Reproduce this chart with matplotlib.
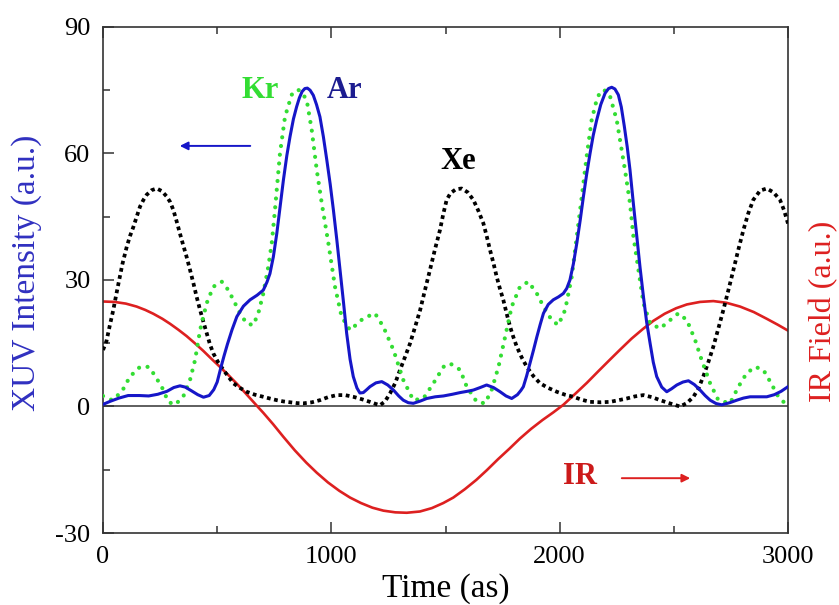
import matplotlib
matplotlib.use("Agg")
import matplotlib.pyplot as plt
from matplotlib.ticker import MultipleLocator

plt.rcParams['font.family'] = ['Liberation Serif', 'DejaVu Serif']
plt.rcParams['axes.unicode_minus'] = False

# XUV intensity of the attosecond pulse trains (a.u.) and the IR driving field
xe_t = [0, 15, 30, 45, 56, 67, 85, 104, 118, 133, 148, 162, 177, 191, 213, 235, 257,
        279, 294, 308, 322, 337, 351, 366, 381, 396, 410, 425, 440, 454, 468, 483,
        505, 527, 550, 571, 600, 629, 665, 702, 730, 761, 790, 820, 850, 877, 915,
        950, 985, 1023, 1060, 1096, 1135, 1169, 1195, 1213, 1235, 1257, 1280, 1301,
        1323, 1345, 1367, 1389, 1410, 1432, 1454, 1476, 1490, 1505, 1522, 1545, 1571,
        1597, 1622, 1644, 1666, 1680, 1695, 1710, 1724, 1738, 1753, 1768, 1783, 1797,
        1812, 1834, 1856, 1885, 1914, 1950, 1987, 2023, 2060, 2097, 2133, 2180, 2221,
        2258, 2294, 2330, 2367, 2405, 2440, 2485, 2527, 2557, 2586, 2608, 2629, 2651,
        2673, 2695, 2717, 2739, 2761, 2783, 2805, 2826, 2848, 2878, 2907, 2936, 2965,
        2983, 3000]
xe_v = [13.4, 15.5, 19.3, 22.9, 26.0, 29, 33.8, 37.9, 40.4, 42.6, 45.1, 47.4, 49.0,
        50.2, 51.3, 51.7, 51.1, 49.8, 48.5, 46.6, 44.0, 41, 38.3, 35.5, 32.4, 29.2,
        26.0, 22.9, 20.0, 17.4, 14.8, 12.6, 10.4, 8.7, 7.0, 5.5, 4.4, 3.5, 2.8, 2.3,
        1.9, 1.5, 1.2, 1.0, 0.8, 0.75, 1.0, 1.5, 2.2, 2.7, 2.7, 2.3, 1.7, 1.1, 0.6,
        0.3, 1.2, 3.1, 5.6, 8.7, 11.8, 15, 18.9, 22.9, 27.6, 32.4, 37.3, 41.9, 45.6,
        49, 50.6, 51.5, 51.7, 50.8, 49, 46.4, 43.4, 40.5, 37.1, 34.0, 30.8, 28.0, 25.3,
        22.0, 18.9, 16.5, 14.2, 11.6, 9.4, 7.2, 5.5, 4.4, 3.5, 2.8, 2.3, 1.6, 1.1, 1.0,
        1.1, 1.5, 1.9, 2.4, 2.7, 2.2, 1.5, 0.7, 0, 0.8, 2.3, 4.3, 7.1, 10.5, 14.2,
        18.5, 22.9, 27.6, 32.4, 37.3, 41.9, 45.8, 49, 51.2, 51.7, 50.8, 49, 46.5, 43.4]

ar_t = [0, 30, 70, 110, 160, 200, 240, 280, 310, 337, 360, 385, 415, 440, 465, 485,
        500, 515, 530, 545, 565, 586, 615, 644, 675, 702, 718, 731, 746, 761, 776, 790,
        805, 819, 834, 848, 860, 872, 884, 895, 907, 921, 935, 950, 965, 980, 995,
        1009, 1024, 1038, 1053, 1067, 1082, 1096, 1112, 1125, 1140, 1155, 1169, 1195,
        1221, 1247, 1272, 1295, 1315, 1337, 1359, 1390, 1418, 1455, 1491, 1530, 1564,
        1595, 1622, 1652, 1680, 1710, 1739, 1765, 1790, 1815, 1830, 1841, 1855, 1870,
        1885, 1900, 1915, 1929, 1950, 1972, 1995, 2016, 2031, 2045, 2060, 2075, 2090,
        2104, 2118, 2133, 2147, 2162, 2180, 2199, 2214, 2228, 2242, 2257, 2270, 2283,
        2296, 2308, 2323, 2338, 2352, 2367, 2381, 2396, 2410, 2425, 2447, 2469, 2490,
        2513, 2540, 2564, 2590, 2615, 2637, 2659, 2685, 2710, 2745, 2776, 2805, 2834,
        2870, 2907, 2940, 2970, 3000]
ar_v = [0.5, 1.2, 2.0, 2.6, 2.6, 2.5, 2.9, 3.6, 4.5, 4.9, 4.6, 3.8, 2.8, 2.2, 2.6, 4.0,
        5.8, 9.0, 12.0, 14.8, 18.2, 21.3, 23.8, 25.3, 26.4, 27.6, 29.5, 31.5, 35.5, 41,
        47.5, 53.7, 59.5, 64, 68.2, 71.1, 73.2, 74.7, 75.4, 75.5, 75.0, 73.8, 71.6,
        68.7, 64.0, 58.5, 52.7, 46.6, 39.5, 32.4, 24.8, 17.4, 11.2, 7.1, 4.4, 3.2, 3.3,
        4.0, 4.7, 5.6, 5.9, 5.1, 3.9, 2.5, 1.5, 0.9, 0.75, 1.3, 1.9, 2.3, 2.5, 2.9,
        3.3, 3.6, 3.9, 4.5, 5.1, 4.5, 3.5, 2.5, 1.9, 2.8, 3.8, 4.7, 7.2, 10.2, 13.3,
        16.5, 19.5, 22.1, 24.2, 25.3, 26.0, 26.8, 28.0, 30, 33.8, 38.7, 44.2, 49.8,
        55.0, 60, 64.3, 67.9, 71.6, 74.3, 75.4, 75.7, 75.3, 73.9, 71.0, 66.5, 61.5,
        56.1, 48.0, 40.3, 33.0, 26, 20.0, 15, 10.5, 7.1, 4.6, 3.5, 4.2, 5.1, 5.8, 6.1,
        5.2, 3.9, 2.6, 1.5, 0.7, 0.4, 0.9, 1.5, 2.0, 2.3, 2.3, 2.3, 2.8, 3.6, 4.7]

kr_t = [0, 40, 82, 118, 162, 199, 220, 257, 286, 315, 351, 381, 403, 425, 454, 483,
        520, 549, 578, 600, 629, 658, 680, 702, 724, 739, 753, 775, 797, 826, 840, 855,
        870, 892, 914, 936, 958, 987, 1016, 1045, 1082, 1140, 1191, 1228, 1272, 1315,
        1359, 1403, 1447, 1491, 1520, 1564, 1593, 1637, 1673, 1702, 1732, 1761, 1790,
        1826, 1863, 1900, 1929, 1965, 1994, 2024, 2053, 2075, 2097, 2118, 2140, 2162,
        2175, 2191, 2205, 2221, 2250, 2286, 2308, 2323, 2345, 2367, 2396, 2440, 2484,
        2520, 2557, 2593, 2622, 2659, 2695, 2746, 2783, 2819, 2856, 2892, 2922, 2958,
        2987, 3000]
kr_v = [2.5, 1.5, 3.5, 7.1, 9.4, 9.4, 7.9, 4.7, 1.1, 0.4, 2.3, 6.3, 11, 18.1, 24.5,
        28.4, 29.6, 27.6, 24.5, 22.1, 19.7, 19.3, 22.1, 26.8, 33.2, 38.7, 46.6, 60,
        68.7, 73.9, 74.8, 75.1, 74.5, 72.7, 65.6, 56.1, 48.2, 38.7, 28.4, 21.3, 18.1,
        20.9, 22.1, 18.9, 13.4, 6.3, 1.5, 1.9, 5.5, 9.4, 10.2, 8.7, 4.7, 1.1, 0.75,
        3.9, 9.4, 16.5, 23.7, 28.4, 29.6, 26.8, 23.7, 20.5, 19.3, 22.9, 30.8, 40.3,
        49.8, 59.2, 67.9, 72.7, 74.3, 75.1, 74.7, 73.5, 67.9, 56.1, 48.2, 40.3, 32.4,
        24.5, 19.7, 18.5, 20.5, 22.1, 20.5, 15.8, 11, 5.5, 1.5, 0.75, 4.7, 7.9, 9.4,
        8.7, 5.9, 2.3, 0.75, 1]

ir_t = [0, 50, 100, 147, 185, 220, 260, 294, 330, 366, 400, 439, 475, 512, 550, 586,
        620, 650, 680, 702, 745, 790, 840, 890, 936, 985, 1035, 1082, 1130, 1180, 1228,
        1280, 1330, 1388, 1440, 1490, 1534, 1585, 1635, 1681, 1730, 1780, 1826, 1875,
        1925, 1972, 2016, 2070, 2119, 2170, 2220, 2265, 2315, 2365, 2410, 2460, 2510,
        2557, 2615, 2673, 2730, 2790, 2850, 2907, 2955, 3000]
ir_v = [24.9, 24.8, 24.4, 23.7, 22.9, 22.0, 20.8, 19.6, 18.2, 16.7, 15.1, 13.2, 11.3,
        9.4, 7.4, 5.4, 3.4, 1.6, -0.2, -1.5, -4.2, -7.2, -10.4, -13.3, -15.7, -18.0,
        -20.0, -21.6, -22.9, -24.0, -24.7, -25.1, -25.2, -24.9, -24.1, -22.9, -21.6,
        -19.6, -17.4, -15.1, -12.5, -10.0, -7.6, -5.3, -3.2, -1.4, 0.4, 3.1, 5.6, 8.4,
        11.1, 13.5, 16.1, 18.4, 20.3, 22.0, 23.3, 24.2, 24.8, 25.0, 24.6, 23.7, 22.4,
        20.8, 19.4, 18.0]

blue = '#1616c8'
green = '#33dd33'
red = '#dd2020'

fig = plt.figure(figsize=(8.39, 6.05), dpi=100)
ax = fig.add_axes([0.1228, 0.119, 0.8164, 0.8364])

ax.axhline(0, color='#333333', lw=1.1, zorder=1)
ax.plot(ir_t, ir_v, color=red, lw=1.9, zorder=2)
ax.plot(xe_t, xe_v, color='black', lw=2.7, linestyle=(0, (1, 0.95)),
        dash_capstyle='butt', zorder=3)
ax.plot(kr_t, kr_v, color=green, lw=3.0, linestyle=(0, (0.01, 2.1)),
        dash_capstyle='round', zorder=3)
ax.plot(ar_t, ar_v, color=blue, lw=2.2, zorder=4)

ax.set_xlim(0, 3000)
ax.set_ylim(-30, 90)
ax.xaxis.set_major_locator(MultipleLocator(1000))
ax.xaxis.set_minor_locator(MultipleLocator(500))
ax.yaxis.set_major_locator(MultipleLocator(30))
ax.yaxis.set_minor_locator(MultipleLocator(15))
ax.tick_params(which='both', direction='in', top=True, right=False,
               labelsize=19, width=1.1, color='#333333', pad=9)
ax.tick_params(which='major', length=8)
ax.tick_params(which='minor', length=5)
for s in ax.spines.values():
    s.set_linewidth(1.2)
    s.set_color('#333333')

ax.set_xlabel('Time (as)', fontsize=24)
ax.set_ylabel('XUV Intensity (a.u.)', fontsize=24, color='#3030c0')
ax.yaxis.set_label_coords(-0.089, 0.514)

# right-hand axis only carries the IR field label
ax2 = ax.twinx()
ax2.set_yticks([])
ax2.set_ylabel('IR Field (a.u.)', fontsize=23, color=red)
ax2.yaxis.set_label_coords(1.03, 0.437)
for s in ax2.spines.values():
    s.set_visible(False)

ax.text(688, 75, 'Kr', color=green, fontsize=22, fontweight='bold',
        ha='center', va='center')
ax.text(1060, 75, 'Ar', color='#1c1c90', fontsize=22, fontweight='bold',
        ha='center', va='center')
ax.text(1557, 58.2, 'Xe', color='black', fontsize=22, fontweight='bold',
        ha='center', va='center')
ax.text(2087, -16.7, 'IR', color='#cc1a1a', fontsize=22, fontweight='bold',
        ha='center', va='center')

ax.annotate('', xy=(324, 61.8), xytext=(657, 61.8),
            arrowprops=dict(arrowstyle='-|>', color=blue, lw=1.4, mutation_scale=12))
ax.annotate('', xy=(2584, -17), xytext=(2260, -17),
            arrowprops=dict(arrowstyle='-|>', color=red, lw=1.4, mutation_scale=12))

fig.savefig('out.png', dpi=100)
